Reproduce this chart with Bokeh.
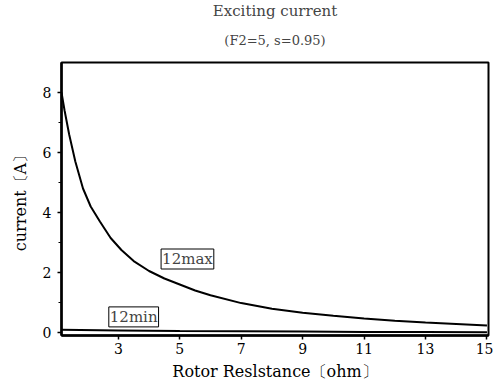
from bokeh.plotting import figure
from bokeh.models import FixedTicker, Label, Title, Range1d
from bokeh.embed import file_html
from bokeh.resources import INLINE

# ---- data ----
r_max = [1.15, 1.25, 1.4, 1.6, 1.85, 2.1, 2.4, 2.75, 3.1, 3.5, 4.0, 4.5, 5.0, 5.5, 6.0,
         7.0, 8.0, 9.0, 10.0, 11.0, 12.0, 13.0, 14.0, 15.0]
i2_max = [8.0, 7.4, 6.6, 5.7, 4.8, 4.2, 3.7, 3.15, 2.75, 2.38, 2.05, 1.8, 1.6, 1.4, 1.24,
          0.98, 0.79, 0.66, 0.56, 0.47, 0.39, 0.33, 0.28, 0.23]
r_min = [1.15, 3.0, 5.0, 7.0, 9.0, 11.0, 13.0, 15.0]
i2_min = [0.09, 0.07, 0.05, 0.04, 0.03, 0.02, 0.02, 0.01]
x_ticks = [3, 5, 7, 9, 11, 13, 15]
y_ticks = [0, 2, 4, 6, 8]
y_minor = [1, 3, 5, 7]
title_text = "Exciting current"
subtitle_text = "(F2=5, s=0.95)"

SERIF = "DejaVu Serif"

p = figure(width=493, height=385, output_backend="svg", toolbar_location=None,
           x_range=Range1d(1.15, 15.05), y_range=Range1d(-0.1, 9.0),
           min_border_left=61, min_border_right=5, min_border_top=58, min_border_bottom=50)

p.title.text = title_text
p.title.align = "center"
p.title.text_font = SERIF
p.title.text_font_size = "15px"
p.title.text_font_style = "normal"
p.title.standoff = 0
p.title.text_line_height = 0.8
p.title.vertical_align = "middle"
p.add_layout(Title(text=subtitle_text, align="center", text_font=SERIF,
                   text_font_size="13px", text_font_style="normal", standoff=25,
                   vertical_align="top"), "above")

p.xgrid.visible = False
p.ygrid.visible = False
p.outline_line_color = "black"
p.outline_line_width = 2
p.background_fill_color = "white"
p.border_fill_color = "white"

p.line(r_max, i2_max, line_color="black", line_width=2)
p.line(r_min, i2_min, line_color="black", line_width=2)

for ax in (p.xaxis[0], p.yaxis[0]):
    ax.axis_line_color = "black"
    ax.axis_line_width = 2.5
    ax.major_tick_line_color = "black"
    ax.major_tick_line_width = 1.5
    ax.major_tick_in = 0
    ax.major_tick_out = 4
    ax.minor_tick_in = 0
    ax.minor_tick_out = 3
    ax.minor_tick_line_color = "black"
    ax.major_label_text_font = SERIF
    ax.major_label_text_font_size = "14px"
    ax.major_label_text_color = "black"
    ax.axis_label_text_font = SERIF
    ax.axis_label_text_font_size = "16px"
    ax.axis_label_text_font_style = "normal"
    ax.axis_label_text_color = "black"

p.xaxis.ticker = FixedTicker(ticks=x_ticks)
p.xaxis.minor_tick_line_color = None
p.yaxis.ticker = FixedTicker(ticks=y_ticks, minor_ticks=y_minor)
p.xaxis.axis_label = "Rotor Reslstance〔ohm〕"
p.yaxis.axis_label = "current〔A〕"
p.xaxis.major_label_standoff = 3
p.xaxis.axis_label_standoff = 5
p.yaxis.major_label_standoff = 6
p.yaxis.axis_label_standoff = 10

p.add_layout(Label(x=5.25, y=2.45, text="12max", text_font=SERIF, text_font_size="15px",
                   text_align="center", text_baseline="middle", padding=1,
                   border_line_color="black", border_line_width=1,
                   background_fill_color="white"))
p.add_layout(Label(x=3.5, y=0.52, text="12min", text_font=SERIF, text_font_size="15px",
                   text_align="center", text_baseline="middle", padding=1,
                   border_line_color="black", border_line_width=1,
                   background_fill_color="white"))

open("out.html", "w").write(file_html(p, INLINE))
